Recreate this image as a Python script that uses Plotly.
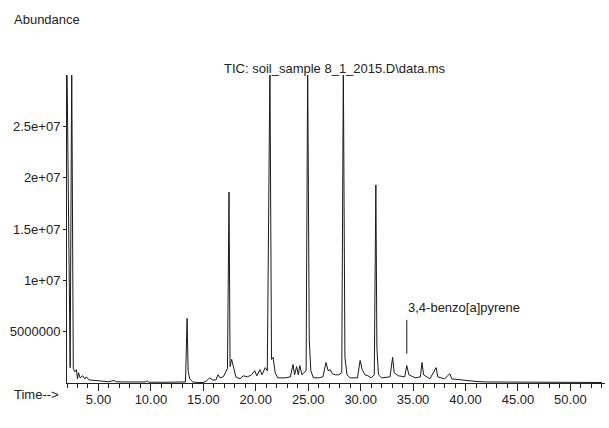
import plotly.graph_objects as go

# Retention time (min) and abundance
time_min = [
    2.00, 2.12, 2.30, 2.45, 2.60, 2.75, 2.90, 3.00, 3.10, 3.25, 3.50, 3.70, 3.85, 4.10, 4.50,
    5.00, 5.50, 6.00, 6.50, 6.70, 7.50, 8.50, 9.50, 9.65, 9.80, 11.00, 12.50,
    13.30, 13.45, 13.55, 13.70, 14.00, 14.50, 15.00, 15.30, 15.60, 15.90, 16.20, 16.40, 16.60,
    16.90, 17.10, 17.30, 17.45, 17.55, 17.70, 17.90, 18.10, 18.50, 18.80, 19.20, 19.60, 19.90,
    20.10, 20.40, 20.60, 20.90, 21.10, 21.35, 21.50, 21.65, 21.85, 22.10, 22.80, 23.30, 23.55,
    23.70, 23.90, 24.05, 24.20, 24.40, 24.60, 24.80, 24.95, 25.10, 25.25, 25.50, 26.00, 26.40,
    26.70, 26.90, 27.10, 27.30, 27.60, 27.90, 28.20, 28.35, 28.50, 28.70, 29.00, 29.70, 29.95,
    30.15, 30.40, 30.70, 31.00, 31.30, 31.45, 31.55, 31.70, 32.00, 32.80, 33.05, 33.20, 33.60,
    34.20, 34.40, 34.60, 35.20, 35.70, 35.85, 36.00, 36.60, 37.20, 37.35, 38.00, 38.50, 38.70,
    39.50, 40.00, 41.00, 42.00, 44.00, 46.00, 50.00, 53.00,
]
abundance = [
    3.1e7, 2.0e7, 1.5e6, 3.1e7, 1.4e6, 1.1e6, 1.3e6, 0.4e6, 1.0e6, 0.5e6, 0.7e6, 0.4e6, 0.6e6, 0.3e6, 0.25e6,
    0.2e6, 0.15e6, 0.12e6, 0.25e6, 0.12e6, 0.1e6, 0.08e6, 0.1e6, 0.2e6, 0.08e6, 0.07e6, 0.07e6,
    0.1e6, 6.3e6, 1.2e6, 0.4e6, 0.1e6, 0.05e6, 0.05e6, 0.2e6, 0.5e6, 0.3e6, 0.3e6, 0.8e6, 0.5e6,
    0.6e6, 1.0e6, 1.4e6, 1.86e7, 1.6e6, 2.3e6, 1.5e6, 0.6e6, 0.4e6, 0.7e6, 0.6e6, 0.8e6, 1.2e6,
    0.7e6, 1.3e6, 0.8e6, 1.5e6, 1.2e6, 3.1e7, 2.3e6, 2.5e6, 1.0e6, 0.5e6, 0.5e6, 0.6e6, 1.8e6,
    0.8e6, 1.6e6, 0.8e6, 1.7e6, 0.8e6, 1.0e6, 1.2e6, 3.1e7, 4.2e6, 1.2e6, 0.5e6, 0.5e6, 0.6e6,
    2.0e6, 1.2e6, 1.3e6, 0.9e6, 0.8e6, 0.8e6, 1.0e6, 3.1e7, 2.5e6, 0.8e6, 0.5e6, 0.5e6, 2.2e6,
    1.3e6, 0.8e6, 0.7e6, 0.5e6, 0.8e6, 1.93e7, 3.4e6, 0.8e6, 0.5e6, 0.6e6, 2.5e6, 1.0e6, 0.7e6,
    0.6e6, 1.7e6, 0.8e6, 0.5e6, 0.6e6, 2.0e6, 0.8e6, 0.4e6, 1.5e6, 0.6e6, 0.4e6, 0.9e6, 0.4e6,
    0.3e6, 0.25e6, 0.15e6, 0.1e6, 0.08e6, 0.08e6, 0.07e6, 0.05e6,
]

y_tick_vals = [5e6, 1e7, 1.5e7, 2e7, 2.5e7]
y_tick_text = ["5000000", "1e+07", "1.5e+07", "2e+07", "2.5e+07"]

title_text = "TIC: soil_sample 8_1_2015.D\\data.ms"
peak_label = "3,4-benzo[a]pyrene"
peak_label_time = 34.4
peak_marker_span = [2.85e6, 6.15e6]

FONT = "Liberation Sans, Arial, sans-serif"
W, H = 609, 428
ML, MR, MT, MB = 67, 4, 75, 45
PW, PH = W - ML - MR, H - MT - MB


def px_to_paper(px, py):
    return (px - ML) / PW, (H - MB - py) / PH


fig = go.Figure()
fig.add_trace(go.Scatter(
    x=time_min, y=abundance, mode="lines",
    line=dict(color="#1a1a1a", width=1),
    hoverinfo="skip", showlegend=False,
))

fig.add_shape(type="line", xref="x", yref="y",
              x0=peak_label_time, x1=peak_label_time,
              y0=peak_marker_span[0], y1=peak_marker_span[1],
              line=dict(color="#1a1a1a", width=1))

txt_font = dict(family=FONT, size=13, color="#222")
fig.add_annotation(x=peak_label_time - 0.1, y=peak_marker_span[1] + 1.2e6, xref="x", yref="y",
                   text=peak_label, showarrow=False, xanchor="left", yanchor="middle",
                   font=txt_font)

for text, (px, py) in [(title_text, (222, 68)), ("Abundance", (12, 20)), ("Time-->", (12, 395))]:
    ax, ay = px_to_paper(px, py)
    fig.add_annotation(x=ax, y=ay, xref="paper", yref="paper", text=text,
                       showarrow=False, xanchor="left", yanchor="middle", font=txt_font)

fig.update_layout(
    width=W, height=H,
    margin=dict(l=ML, r=MR, t=MT, b=MB),
    paper_bgcolor="white", plot_bgcolor="white",
    font=dict(family=FONT, size=13, color="#222"),
    xaxis=dict(
        range=[2.0, 53.3], showgrid=False, zeroline=False,
        showline=True, linecolor="#222", linewidth=1,
        tickmode="linear", tick0=5, dtick=5, tickformat=".2f",
        ticks="outside", ticklen=7, tickcolor="#222", tickwidth=1,
        ticklabelstandoff=-3,
        minor=dict(tickmode="linear", tick0=0, dtick=1, ticks="outside", ticklen=4,
                   tickcolor="#222", showgrid=False),
    ),
    yaxis=dict(
        range=[0, 3.0e7], showgrid=False, zeroline=False,
        showline=True, linecolor="#222", linewidth=1,
        ticks="outside", ticklen=3, tickcolor="#222",
        tickmode="array", tickvals=y_tick_vals, ticktext=y_tick_text,
    ),
)

fig.write_html("out.html", config={"displayModeBar": False},
               post_script="document.body.style.margin='0';")
